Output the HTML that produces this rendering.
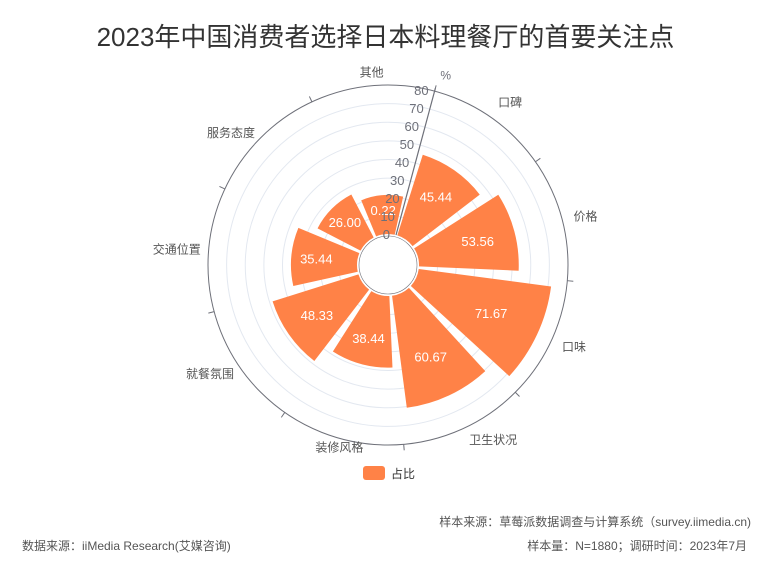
<!DOCTYPE html>
<html><head><meta charset="utf-8">
<style>
body{margin:0;background:#fff;font-family:"Liberation Sans","Noto Sans CJK SC",sans-serif;}
#wrap{position:relative;width:771px;height:568px;overflow:hidden;}
.t{position:absolute;white-space:nowrap;}
</style></head>
<body>
<div id="wrap">
<div class="t" style="left:0;width:771px;text-align:center;top:17px;font-size:26px;color:#333;">2023年中国消费者选择日本料理餐厅的首要关注点</div>
<svg id="chart" width="771" height="568" style="position:absolute;left:0;top:0" font-family="Liberation Sans, Noto Sans CJK SC, sans-serif"></svg>
<div style="position:absolute;left:363px;top:466px;width:22px;height:14px;border-radius:3px;background:#ff8247;"></div>
<div class="t" style="left:391px;top:465px;font-size:12px;color:#333;">占比</div>
<div class="t" style="right:20px;top:513px;font-size:12px;color:#555;">样本来源：草莓派数据调查与计算系统（survey.iimedia.cn)</div>
<div class="t" style="left:22px;top:537px;font-size:12px;color:#555;">数据来源：iiMedia Research(艾媒咨询)</div>
<div class="t" style="right:24px;top:537px;font-size:12px;color:#555;">样本量：N=1880；调研时间：2023年7月</div>
</div>
<script>
const categories=["口碑","价格","口味","卫生状况","装修风格","就餐氛围","交通位置","服务态度","其他"];
const values=[45.44,53.56,71.67,60.67,38.44,48.33,35.44,26.00,0.22];
const ticks=[0,10,20,30,40,50,60,70,80];
const valueLabels=["45.44","53.56","71.67","60.67","38.44","48.33","35.44","26.00","0.22"];
const cx=388,cy=265,r0=31,r1=180,maxV=80,start=15,minBarR=70;
const svg=document.getElementById('chart');
const NS='http://www.w3.org/2000/svg';
function rScale(v){return r0+v/maxV*(r1-r0);}
function aScale(i){return start+i*360/categories.length;}
function pt(r,deg){const a=deg*Math.PI/180;return [cx+r*Math.sin(a),cy-r*Math.cos(a)];}
function mk(tag,attrs){const e=document.createElementNS(NS,tag);for(const k in attrs)e.setAttribute(k,attrs[k]);svg.appendChild(e);return e;}
ticks.forEach(t=>{if(t===0||t===maxV)return;const c=mk('circle',{cx:cx,cy:cy,r:rScale(t),fill:'none',stroke:'#e3e8f0','stroke-width':1});

});
const oc=mk('circle',{cx:cx,cy:cy,r:r1,fill:'none',stroke:'#6e7079','stroke-width':1});


const band=360/categories.length;
categories.forEach((c,i)=>{
  const a0=aScale(i);
  const [x1,y1]=pt(r1,a0),[x2,y2]=pt(r1+6,a0);
  const tk=mk('line',{x1:x1,y1:y1,x2:x2,y2:y2,stroke:'#6e7079'});
  
  
  const mid=a0+band/2, s=Math.sin(mid*Math.PI/180);
  const [lx,ly]=pt(s<0?r1+8:r1+12,mid);
  const anchor=Math.abs(s)<0.3?'middle':(s>0?'start':'end');
  const tx=mk('text',{x:lx,y:ly+5-(Math.cos(mid*Math.PI/180)>0.8?6:0),'font-size':12,fill:'#555','text-anchor':anchor});
  tx.textContent=c;
  
  
  const pad=2.5, b0=a0+pad, b1=a0+band-pad, ro=Math.max(rScale(values[i]),minBarR);
  const [p1x,p1y]=pt(r0,b0),[p2x,p2y]=pt(ro,b0),[p3x,p3y]=pt(ro,b1),[p4x,p4y]=pt(r0,b1);
  const d=`M${p1x},${p1y}L${p2x},${p2y}A${ro},${ro} 0 0 1 ${p3x},${p3y}L${p4x},${p4y}A${r0},${r0} 0 0 0 ${p1x},${p1y}Z`;
  const bar=mk('path',{d:d,fill:'#ff8247'});
  
  
});
categories.forEach((c,i)=>{
  const ro=Math.max(rScale(values[i]),minBarR);
  const [vx,vy]=pt(r0+(ro-r0)*0.62,aScale(i)+band/2);
  const vt=mk('text',{x:vx,y:vy+5,'font-size':13,fill:'#fff','text-anchor':'middle'});
  vt.textContent=valueLabels[i];
  
  
});
const hole=mk('circle',{cx:cx,cy:cy,r:r0-2,fill:'#fff',stroke:'#6e7079','stroke-width':0.6});


const [ax0,ay0]=pt(r0,start),[ax1,ay1]=pt(r1+3,start);
const al=mk('line',{x1:ax0,y1:ay0,x2:ax1,y2:ay1,stroke:'#6e7079','stroke-width':1.2});


ticks.forEach(t=>{
  const [tx,ty]=pt(rScale(t),start);
  const tl=mk('text',{x:tx-6,y:ty+4,'font-size':13,fill:'#6e7079','text-anchor':'end'});
  tl.textContent=t;
  
  
});
const [ux,uy]=pt(r1+15,start+1);
const un=mk('text',{x:ux+4,y:uy+2,'font-size':12,fill:'#6e7079','text-anchor':'middle'});
un.textContent='%';


</script>
</body></html>
